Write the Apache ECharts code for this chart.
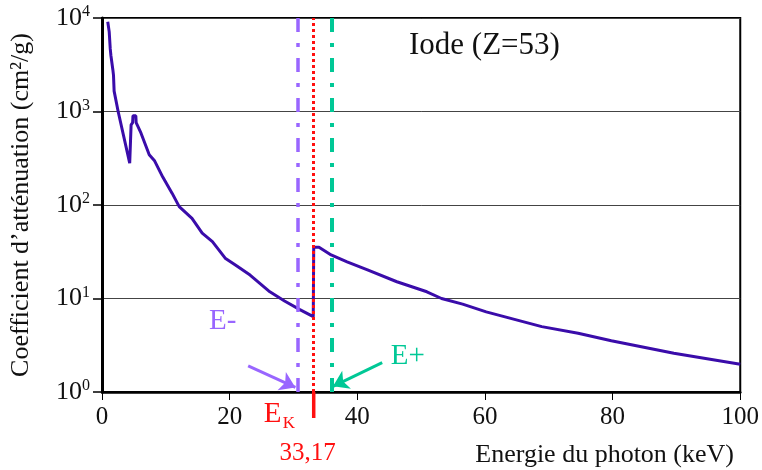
<!DOCTYPE html>
<html><head><meta charset="utf-8">
<script src="https://cdn.jsdelivr.net/npm/echarts@6/dist/echarts.min.js"></script>
<style>html,body{margin:0;padding:0;background:#fff}#c{width:762px;height:470px}</style>
</head><body><div id="c"></div>
<script>
// Photon energy (keV) and mass attenuation coefficient (cm²/g) of iodine
const energies = [0.9, 1.13, 1.29, 1.39, 1.7, 1.8, 1.9, 2.53, 4.34, 4.55, 4.56, 4.8, 4.85, 5.3, 5.35,
  6.1, 7.4, 8.2, 9.5, 11.0, 12.1, 14.1, 15.7, 17.3, 19.3, 20.9, 23.2, 26.3, 28.6, 31.0, 33.1,
  33.17, 34.0, 35.9, 38.4, 41.6, 46.2, 50.9, 53.2, 56.5, 60.2, 68.9, 74.6, 79.8, 89.6, 100];
const attenuation = [9100, 7100, 4700, 4000, 2800, 2450, 1650, 1000, 280, 268, 720, 760, 900, 900, 760,
  590, 345, 300, 200, 133, 96, 72, 50, 40.5, 27, 22.8, 17.8, 11.8, 9.4, 7.6, 6.4,
  35.3, 35.3, 29.2, 24.7, 20.2, 15.1, 11.8, 10, 8.7, 7.2, 5.0, 4.25, 3.54, 2.6, 1.98];
const xTicks = [0, 20, 40, 60, 80, 100];
const yTicks = [1, 10, 100, 1000, 10000];
const edgeK = 33.17;          // K edge energy
const eMinus = 30.7;          // E- energy
const ePlus = 36.0;           // E+ energy
// arrows: [start energy, start mu], [end energy, end mu]
const arrowMinus = [[22.9, 1.90], [30.3, 1.12]];
const arrowPlus = [[43.9, 2.06], [36.2, 1.15]];

const FONT = '"Liberation Serif", "DejaVu Serif", serif';
const PURPLE = '#9966ff', GREEN = '#00c896', RED = '#ff1010', CURVE = '#3a0caa';

const chart = echarts.init(document.getElementById('c'), null, {renderer: 'canvas'});
const curve = energies.map((e, i) => [e, attenuation[i]]);

chart.setOption({
  animation: false,
  backgroundColor: '#fff',
  grid: {left: 99, right: 20, top: 18, bottom: 78, show: true, borderColor: '#000', borderWidth: 2},
  title: [
    {text: 'Iode (Z=53)', left: 404, top: 25, textStyle: {fontFamily: FONT, fontSize: 31, fontWeight: 'normal', color: '#111'}},
    {text: 'Energie du photon (keV)', right: 23, top: 437, textStyle: {fontFamily: FONT, fontSize: 26, fontWeight: 'normal', color: '#111'}}
  ],
  xAxis: {
    type: 'value', min: xTicks[0], max: xTicks[xTicks.length - 1], interval: xTicks[1] - xTicks[0],
    axisLine: {show: true, lineStyle: {color: '#000', width: 2.5}},
    axisTick: {show: true, length: 8, lineStyle: {color: '#000', width: 1}},
    splitLine: {show: false},
    axisLabel: {fontFamily: FONT, fontSize: 25, color: '#111', margin: 13}
  },
  yAxis: {
    type: 'log', logBase: 10, min: yTicks[0], max: yTicks[yTicks.length - 1],
    name: 'Coefficient d’atténuation (cm²/g)', nameLocation: 'middle', nameGap: 68,
    nameTextStyle: {fontFamily: FONT, fontSize: 26, color: '#111'},
    axisLine: {show: true, lineStyle: {color: '#000', width: 3}},
    axisTick: {show: true, length: 9, lineStyle: {color: '#000', width: 1.5}},
    splitLine: {show: true, lineStyle: {color: '#444', width: 1}},
    axisLabel: {
      margin: 12,
      formatter: v => '{b|10}{s|' + Math.round(Math.log10(v)) + '}',
      rich: {
        b: {fontFamily: FONT, fontSize: 26, color: '#111', lineHeight: 28},
        s: {fontFamily: FONT, fontSize: 16, color: '#111', verticalAlign: 'top', lineHeight: 15}
      }
    }
  },
  series: [
    {
      type: 'line', data: curve, showSymbol: false, z: 2,
      lineStyle: {color: CURVE, width: 3}
    },
    {
      type: 'line', data: [], z: 4,
      markLine: {
        silent: true, animation: false, symbol: ['none', 'none'], label: {show: false},
        data: [
          {xAxis: eMinus, lineStyle: {color: PURPLE, width: 3.5, type: [14, 11, 4, 11]}},
          {xAxis: ePlus, lineStyle: {color: GREEN, width: 4, type: [14, 11, 4, 11]}},
          {xAxis: edgeK, lineStyle: {color: RED, width: 3, type: [3, 3]}}
        ]
      }
    },
    {
      type: 'line', data: [], z: 5,
      markLine: {
        silent: true, animation: false, symbol: ['none', 'arrow'], symbolSize: 15, label: {show: false},
        data: [
          [{coord: arrowMinus[0], lineStyle: {color: PURPLE, width: 3, type: 'solid'}}, {coord: arrowMinus[1]}],
          [{coord: arrowPlus[0], lineStyle: {color: GREEN, width: 3, type: 'solid'}}, {coord: arrowPlus[1]}]
        ]
      }
    }
  ]
});

// annotations anchored on the axes through the library's scales
const px = chart.convertToPixel({xAxisIndex: 0}, edgeK);
const py0 = chart.convertToPixel({yAxisIndex: 0}, yTicks[0]);
const pxm = chart.convertToPixel({xAxisIndex: 0}, eMinus);
const pxp = chart.convertToPixel({xAxisIndex: 0}, ePlus);
chart.setOption({
  graphic: [
    {type: 'line', z: 10, shape: {x1: px, y1: py0, x2: px, y2: py0 + 26}, style: {stroke: RED, lineWidth: 3.5}},
    {type: 'text', z: 10, x: px - 50, y: py0 + 22, style: {text: 'E', fill: RED, font: '29px ' + FONT, verticalAlign: 'middle', align: 'left'}},
    {type: 'text', z: 10, x: px - 31, y: py0 + 32, style: {text: 'K', fill: RED, font: '17px ' + FONT, verticalAlign: 'middle', align: 'left'}},
    {type: 'text', z: 10, x: px - 6, y: py0 + 61, style: {text: '33,17', fill: RED, font: '25px ' + FONT, verticalAlign: 'middle', align: 'center'}},
    {type: 'text', z: 10, x: pxm - 89, y: py0 - 71, style: {text: 'E-', fill: PURPLE, font: '29px ' + FONT, verticalAlign: 'middle', align: 'left'}},
    {type: 'text', z: 10, x: pxp + 59, y: py0 - 36, style: {text: 'E+', fill: GREEN, font: '29px ' + FONT, verticalAlign: 'middle', align: 'left'}}
  ]
});
</script>
</body></html>
